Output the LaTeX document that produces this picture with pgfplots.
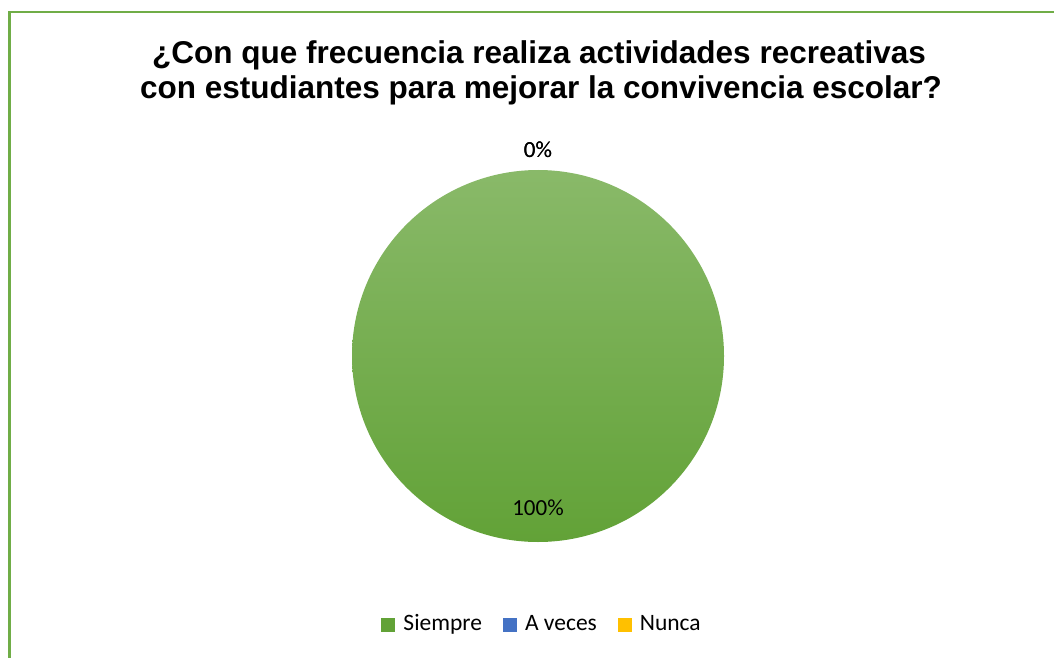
\documentclass[border=0pt]{standalone}
\usepackage{fontspec}
\setmainfont{Liberation Sans}
\newfontfamily\calibri{Carlito}
\usepackage{pgfplots}
\usepackage{pgfplotstable}
\pgfplotsset{compat=1.18}

\definecolor{marco}{RGB}{112,173,71}
\definecolor{verde}{RGB}{98,162,55}
\definecolor{azul}{RGB}{68,114,196}
\definecolor{amarillo}{RGB}{255,192,0}

\pgfplotstableread{
nombre valor color
Siempre 100 verde
{A veces} 0 azul
Nunca 0 amarillo
}\datos

\newcommand\etiq{\calibri\fontsize{23}{27}\selectfont}
\newcommand\leyenda{\calibri\fontsize{23.5}{27}\selectfont}

\begin{document}
\begin{tikzpicture}[x=1pt,y=1pt]
\useasboundingbox (0,0) rectangle (1054,657);
\clip (0,0) rectangle (1054,657);
% marco del grafico (cortado a la derecha y abajo)
\draw[marco, line width=2.5pt] (9.5,-20) rectangle (1080,645);

\node[anchor=base, font=\bfseries\fontsize{31.5}{36}\selectfont] at (539,593)
  {¿Con que frecuencia realiza actividades recreativas};
\node[anchor=base, font=\bfseries\fontsize{31.5}{36}\selectfont] at (541,558)
  {con estudiantes para mejorar la convivencia escolar?};

\begin{axis}[
  at={(538pt,301pt)}, anchor=center,
  width=372pt, height=372pt, scale only axis,
  xmin=-1, xmax=1, ymin=-1, ymax=1,
  hide axis, clip=false,
  legend columns=-1,
  legend style={at={(0.511,-0.223)}, anchor=center, draw=none, fill=none,
    font=\leyenda, inner sep=0pt,
    nodes={text height=16pt, text depth=5pt},
    /tikz/every odd column/.append style={column sep=6pt},
    /tikz/every even column/.append style={column sep=19pt}},
  legend image code/.code={\fill[#1, draw=none] (0pt,-7pt) rectangle (14pt,7pt);},
]
\addlegendimage{fill=verde, draw=none}
\addlegendentry{Siempre}
\addlegendimage{fill=azul, draw=none}
\addlegendentry{A veces}
\addlegendimage{fill=amarillo, draw=none}
\addlegendentry{Nunca}

\pgfplotstablegetrowsof{\datos}
\pgfmathtruncatemacro{\last}{\pgfplotsretval-1}
\def\angstart{90}
\pgfplotsforeachungrouped \i in {0,...,\last}{%
  \pgfplotstablegetelem{\i}{valor}\of{\datos}\let\val\pgfplotsretval
  \pgfplotstablegetelem{\i}{color}\of{\datos}\let\col\pgfplotsretval
  \pgfmathsetmacro{\angend}{\angstart-3.6*\val}
  \pgfmathsetmacro{\angmid}{(\angstart+\angend)/2}
  \ifdim\val pt>0pt
    \edef\cmd{\noexpand\shade[top color=\col!75!white, bottom color=\col]
      ([shift={(axis cs:0,0)}]\angstart:186pt)
      arc[start angle=\angstart, end angle=\angend, radius=186pt]
      -- (axis cs:0,0) -- cycle;}%
    \cmd
  \fi
  \ifdim\val pt>50pt \def\rad{152pt}\else\def\rad{206pt}\fi
  \edef\cmd{\noexpand\node[font=\noexpand\etiq]
    at ([shift={(axis cs:0,0)}]\angmid:\rad) {\val\noexpand\%};}%
  \cmd
  \let\angstart\angend
}
\end{axis}
\end{tikzpicture}
\end{document}
